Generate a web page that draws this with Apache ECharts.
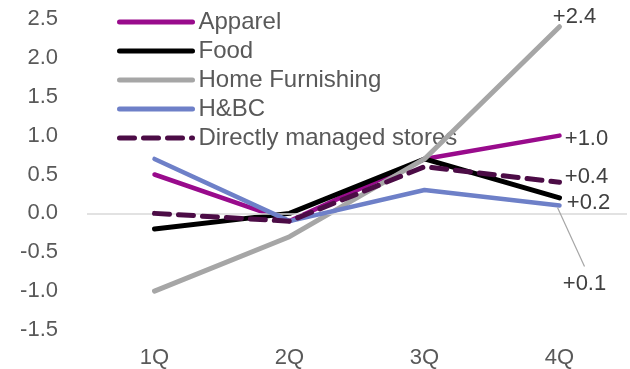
<!DOCTYPE html>
<html>
<head>
<meta charset="utf-8">
<script src="https://cdn.jsdelivr.net/npm/echarts@6/dist/echarts.min.js"></script>
<style>
  html, body { margin: 0; padding: 0; background: #fff; }
  #chart { width: 630px; height: 369px; }
</style>
</head>
<body>
<div id="chart"></div>
<script>
// Quarterly change by category
const quarters = ['1Q', '2Q', '3Q', '4Q'];
const apparel = [0.5, -0.1, 0.7, 1.0];
const food = [-0.2, 0.0, 0.7, 0.2];
const homeFurnishing = [-1.0, -0.3, 0.7, 2.4];
const hbc = [0.7, -0.1, 0.3, 0.1];
const directStores = [0.0, -0.1, 0.6, 0.4];

const FONT = '"Liberation Sans", Arial, sans-serif';

function fmt(v) { return (v >= 0 ? '+' : '') + v.toFixed(1); }

const endLabel = { color: '#404040', fontSize: 22, fontFamily: FONT, position: 'inside' };

// Only the final quarter carries a value label, placed relative to its point
function withEndLabel(values, offset) {
  return values.map((v, i) => i === values.length - 1
    ? { value: v, label: Object.assign({ show: true, formatter: fmt(v), offset: offset }, endLabel) }
    : v);
}

function lineSeries(name, values, color, width, z, offset, extra) {
  return Object.assign({
    name: name, type: 'line',
    symbol: 'circle', symbolSize: 0, showSymbol: true,
    lineStyle: { width: width, color: color, cap: 'round', join: 'round' },
    itemStyle: { color: color },
    emphasis: { disabled: true },
    data: withEndLabel(values, offset),
    z: z
  }, extra || {});
}

const chart = echarts.init(document.getElementById('chart'));
chart.setOption({
  animation: false,
  grid: { left: 87, right: 3, top: 19, bottom: 39 },
  legend: {
    left: 112, top: 5, orient: 'vertical', itemGap: 5,
    itemWidth: 73, itemHeight: 24,
    lineStyle: { width: 5 },
    itemStyle: { opacity: 0 },
    textStyle: { fontSize: 24, color: '#595959', fontFamily: FONT, padding: [0, 0, 0, 1] },
    data: ['Apparel', 'Food', 'Home Furnishing', 'H&BC', 'Directly managed stores']
  },
  xAxis: {
    type: 'category', data: quarters, boundaryGap: true,
    axisLine: { show: false }, axisTick: { show: false },
    axisLabel: { fontSize: 22, color: '#595959', fontFamily: FONT, margin: 17 }
  },
  yAxis: {
    type: 'value', min: -1.5, max: 2.5, interval: 0.5,
    splitLine: { show: false },
    axisLabel: { fontSize: 22, color: '#595959', fontFamily: FONT, margin: 29,
      formatter: v => v.toFixed(1) }
  },
  series: [
    lineSeries('Apparel', apparel, '#990B8C', 4.5, 2, [27, 3]),
    lineSeries('Food', food, '#000000', 5, 3, [29, 5]),
    lineSeries('Home Furnishing', homeFurnishing, '#A6A6A6', 5, 4, [15, -10], {
      markLine: {
        silent: true, symbol: 'none', label: { show: false },
        lineStyle: { color: '#D9D9D9', width: 1.5, type: 'solid' },
        data: [{ yAxis: 0 }]
      }
    }),
    lineSeries('H&BC', hbc, '#6E80C8', 4.5, 5, [25, 78]),
    lineSeries('Directly managed stores', directStores, '#4C0C46', 5, 6, [27, -5], {
      lineStyle: { width: 5, color: '#4C0C46', type: [15, 9], cap: 'round' }
    })
  ]
});

// Leader line from the last H&BC point down to its displaced label
const last = hbc.length - 1;
const anchor = chart.convertToPixel({ seriesIndex: 3 }, [last, hbc[last]]);
chart.setOption({
  graphic: [{
    type: 'line', silent: true, z: 10,
    shape: { x1: anchor[0] - 2, y1: anchor[1] + 2, x2: anchor[0] + 25, y2: anchor[1] + 61 },
    style: { stroke: '#A6A6A6', lineWidth: 1.2 }
  }]
});
</script>
</body>
</html>
